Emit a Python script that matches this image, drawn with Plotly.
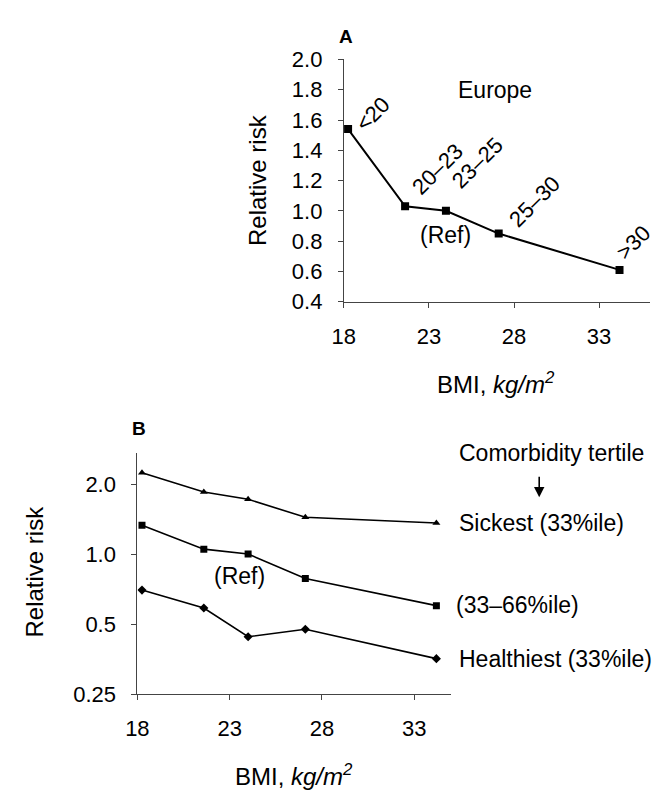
import plotly.graph_objects as go

# Panel A: Europe
bmi_a = [18.25, 21.6, 24.0, 27.1, 34.2]
rr_a = [1.54, 1.03, 1.00, 0.85, 0.61]
cat_labels = ["<20", "20\u201323", "23\u201325", "25\u201330", ">30"]

# Panel B: comorbidity tertiles
bmi_b = [18.25, 21.6, 24.0, 27.1, 34.2]
rr_sickest = [2.24, 1.85, 1.72, 1.44, 1.36]
rr_middle = [1.33, 1.05, 1.00, 0.785, 0.60]
rr_healthiest = [0.70, 0.586, 0.441, 0.475, 0.355]
series_names = ["Sickest (33%ile)", "(33\u201366%ile)", "Healthiest (33%ile)"]

y_ticks_a = [0.4, 0.6, 0.8, 1.0, 1.2, 1.4, 1.6, 1.8, 2.0]
y_ticks_b = [0.25, 0.5, 1.0, 2.0]
y_ticktext_b = ["0.25", "0.5", "1.0", "2.0"]
x_ticks = [18, 23, 28, 33]

FONT = "Liberation Sans, Arial, Helvetica, sans-serif"
W, H = 658, 801

def px_x(p):
    return p / W

def px_y(p):
    return 1 - p / H

fig = go.Figure()

fig.add_trace(go.Scatter(
    x=bmi_a, y=rr_a, mode="lines+markers",
    line=dict(color="black", width=2),
    marker=dict(symbol="square", size=8, color="black"),
    xaxis="x", yaxis="y", showlegend=False, hoverinfo="skip"))

symbols = ["triangle-up", "square", "diamond"]
for ys, sym in zip([rr_sickest, rr_middle, rr_healthiest], symbols):
    fig.add_trace(go.Scatter(
        x=bmi_b, y=ys, mode="lines+markers",
        line=dict(color="black", width=1.6),
        marker=dict(symbol=sym, size=7, color="black"),
        xaxis="x2", yaxis="y2", showlegend=False, hoverinfo="skip"))

axis_common = dict(
    showgrid=False, zeroline=False, showline=True, linecolor="#444",
    linewidth=1, ticks="outside", ticklen=5, tickcolor="#444",
    tickfont=dict(family=FONT, size=22, color="black"))

fig.update_layout(
    width=W, height=H,
    margin=dict(l=0, r=0, t=0, b=0),
    paper_bgcolor="white", plot_bgcolor="white",
    font=dict(family=FONT, color="black"),
    xaxis=dict(domain=[px_x(338), px_x(650)], range=[18, 36],
               tickvals=x_ticks, anchor="y", ticklabelstandoff=10, **axis_common),
    yaxis=dict(domain=[px_y(299), px_y(49)], range=[0.4, 2.0],
               tickvals=y_ticks_a, tickformat=".1f", anchor="x",
               ticklabelstandoff=11, **axis_common),
    xaxis2=dict(domain=[px_x(127.7), px_x(447.3)], range=[18, 35],
                tickvals=x_ticks, anchor="y2", ticklabelstandoff=10, **axis_common),
    yaxis2=dict(domain=[px_y(704), px_y(455)], type="log",
                range=[-0.60206, 0.4356], tickvals=y_ticks_b,
                ticktext=y_ticktext_b, anchor="x2", ticklabelstandoff=11,
                **axis_common),
)

ann = []
# Point labels for panel A
shifts = [(24, 15), (32, 37), (32, 48), (36, 32), (14, 27)]
for xv, yv, lab, (dx, dy) in zip(bmi_a, rr_a, cat_labels, shifts):
    ann.append(dict(x=xv, y=yv, xref="x", yref="y", text=lab, showarrow=False,
                    textangle=-45, xshift=dx, yshift=dy,
                    font=dict(family=FONT, size=22, color="black")))

def paper_text(x, y, text, size=24, xanchor="center", angle=0, family=FONT):
    ann.append(dict(x=px_x(x), y=px_y(y), xref="paper", yref="paper", text=text,
                    showarrow=False, xanchor=xanchor, yanchor="middle",
                    textangle=angle, font=dict(family=family, size=size, color="black")))

paper_text(340, 25, "<b>A</b>", size=19)
paper_text(492, 80, "Europe", size=23)
paper_text(442, 230, "(Ref)", size=23)
paper_text(250, 173, "Relative risk", size=24, angle=-90)
paper_text(493, 383, "BMI, <i>kg/m<sup>2</sup></i>", size=24)

paper_text(129, 430, "<b>B</b>", size=19)
paper_text(453, 455, "Comorbidity tertile", size=23, xanchor="left")
# downward arrow under the legend heading
ann.append(dict(x=px_x(537), y=px_y(501), xref="paper", yref="paper", text="",
                showarrow=True, ax=0, ay=-22, arrowhead=2, arrowsize=1.3,
                arrowwidth=1.6, arrowcolor="black"))
paper_text(453, 527, series_names[0], size=23, xanchor="left")
paper_text(450, 612, series_names[1], size=23, xanchor="left")
paper_text(453, 668, series_names[2], size=23, xanchor="left")
paper_text(232, 582, "(Ref)", size=23)
paper_text(23, 578, "Relative risk", size=24, angle=-90)
paper_text(287, 788, "BMI, <i>kg/m<sup>2</sup></i>", size=24)

fig.update_layout(annotations=ann)
fig.write_html("out.html", config={"displayModeBar": False},
               post_script="document.body.style.margin='0px';")
